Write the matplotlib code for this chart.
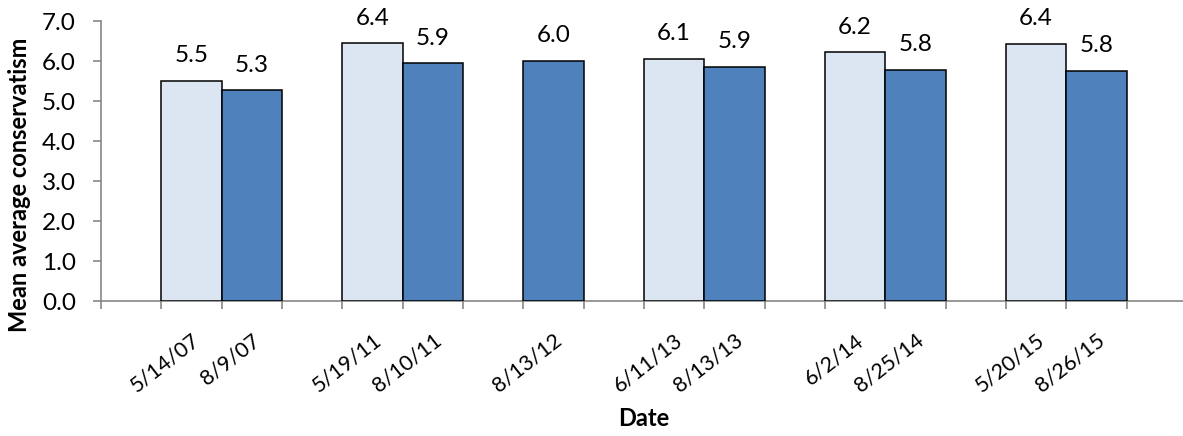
import matplotlib.pyplot as plt
import numpy as np

# spring (light) and late-summer (dark) survey per year
spring_dates = ["5/14/07", "5/19/11", None, "6/11/13", "6/2/14", "5/20/15"]
summer_dates = ["8/9/07", "8/10/11", "8/13/12", "8/13/13", "8/25/14", "8/26/15"]
spring_vals = [5.51, 6.44, None, 6.06, 6.22, 6.43]
summer_vals = [5.27, 5.94, 6.00, 5.86, 5.78, 5.76]

light = "#dce6f2"
dark = "#4f81bd"
grey = "#868686"
fs = 17.5

plt.rcParams['font.family'] = ["Lato", "DejaVu Sans"]

W, H = 1183, 436
fig = plt.figure(figsize=(W / 100, H / 100), dpi=100)
ax = fig.add_axes([101 / W, 1 - 301 / H, 1086 / W, 280 / H])

# each group: one empty slot, then its bars
pos, vals, cols, labs = [], [], [], []
slot = 0
for g in range(len(summer_dates)):
    slot += 1
    for v, d, c in ((spring_vals[g], spring_dates[g], light),
                    (summer_vals[g], summer_dates[g], dark)):
        if v is None:
            continue
        pos.append(slot + 0.5)
        vals.append(v); cols.append(c); labs.append(d)
        slot += 1
slot += 1

ax.bar(pos, vals, width=1.0, color=cols, edgecolor="black", linewidth=1.1, zorder=3)
for p, v in zip(pos, vals):
    ax.annotate(f"{v:.1f}", (p, v), xytext=(0, 18), textcoords="offset points",
                ha="center", va="center", fontsize=fs)

ax.set_xlim(0, slot)
ax.set_ylim(0, 7)
yt = np.arange(0, 7.5, 1.0)
ax.set_yticks(yt)
ax.set_yticklabels([f"{t:.1f}" for t in yt], fontsize=fs)
ax.set_xticks(np.arange(0, slot + 1))
ax.set_xticklabels([])
ax.set_xticks(pos, minor=True)
ax.set_xticklabels(labs, minor=True, rotation=38, ha="right", va="top",
                   rotation_mode="anchor", fontsize=15.5)
ax.tick_params(axis="x", which="minor", length=0, pad=21)
ax.tick_params(axis="x", which="major", length=6, color=grey, width=1.2)
ax.tick_params(axis="y", length=6, color=grey, width=1.2, pad=12)

for s in ["top", "right"]:
    ax.spines[s].set_visible(False)
for s in ["left", "bottom"]:
    ax.spines[s].set_color(grey)
    ax.spines[s].set_linewidth(1.2)

fig.text(20 / W, 1 - 185 / H, "Mean average conservatism", rotation=90,
         ha="center", va="center", fontsize=17, fontweight="bold")
fig.text(644 / W, 1 - 418 / H, "Date", ha="center", va="center",
         fontsize=17, fontweight="bold")

fig.savefig("out.png", dpi=100)
